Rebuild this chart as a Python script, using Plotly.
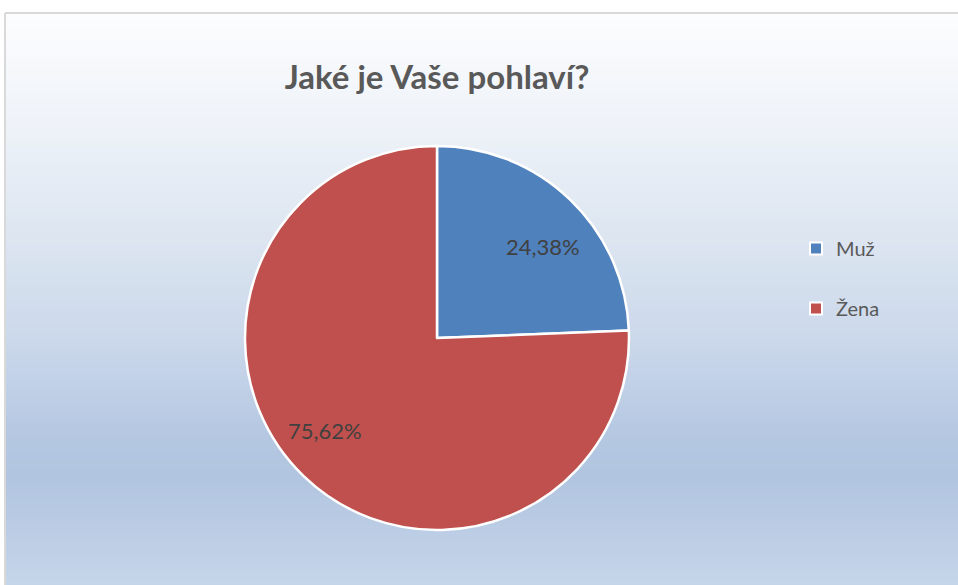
import math
import plotly.graph_objects as go

# ---- data ----
labels = ["Muž", "Žena"]
counts = [49, 152]
colors = ["#4F81BD", "#C0504D"]
title_text = "Jaké je Vaše pohlaví?"

W, H = 958, 585
FONT = "Lato"

# pie placement (pixels)
cx, cy, R = 437, 338, 192

fig = go.Figure()

fig.add_trace(go.Pie(
    labels=labels, values=counts, sort=False, direction="clockwise", rotation=0,
    marker=dict(colors=colors, line=dict(color="white", width=2.5)),
    textinfo="none", hoverinfo="label+percent", showlegend=False,
    domain=dict(x=[(cx - R) / W, (cx + R) / W], y=[(H - cy - R) / H, (H - cy + R) / H]),
))

# legend entries (dummy traces so the spacing between items can be controlled)
for lab, col in zip(labels, colors):
    fig.add_trace(go.Scatter(
        x=[None], y=[None], mode="markers", name=lab, legendgroup=lab,
        marker=dict(symbol="square", size=12, color=col, line=dict(color="white", width=2)),
        hoverinfo="skip",
    ))

# percentage labels, computed from data
total = sum(counts)
label_r = [0.72, 0.76]
angle_shift = -6
start = 90.0
for i, v in enumerate(counts):
    frac = v / total
    span = frac * 360
    mid = start - span / 2 + angle_shift
    start -= span
    a = math.radians(mid)
    px = cx + label_r[i] * R * math.cos(a)
    py = cy - label_r[i] * R * math.sin(a) - 2
    txt = f"{frac * 100:.2f}".replace(".", ",") + "%"
    fig.add_annotation(x=px / W, y=1 - py / H, xref="paper", yref="paper",
                       text=txt, showarrow=False,
                       font=dict(family=FONT, size=22, color="#404040"),
                       xanchor="center", yanchor="middle")

# gradient background inside frame
stops = [(13, (252, 253, 254)), (120, (239, 243, 249)), (240, (220, 229, 240)),
         (340, (203, 216, 235)), (440, (180, 199, 225)), (480, (178, 197, 224)),
         (585, (197, 213, 233))]

def col_at(y):
    for (y0, c0), (y1, c1) in zip(stops[:-1], stops[1:]):
        if y0 <= y <= y1:
            t = (y - y0) / (y1 - y0)
            return "rgb(%d,%d,%d)" % tuple(round(c0[k] + t * (c1[k] - c0[k])) for k in range(3))
    return "rgb(%d,%d,%d)" % stops[-1][1]

shapes = []
y = 13
step = 3
while y < H:
    y2 = min(y + step, H)
    shapes.append(dict(type="rect", xref="paper", yref="paper", layer="below",
                       x0=5 / W, x1=1, y0=1 - y2 / H, y1=1 - y / H,
                       fillcolor=col_at(y + step / 2), line=dict(width=0)))
    y = y2
# frame
shapes.append(dict(type="line", xref="paper", yref="paper", layer="below",
                   x0=5 / W, x1=1, y0=1 - 13 / H, y1=1 - 13 / H,
                   line=dict(color="#D9D9D9", width=2)))
shapes.append(dict(type="line", xref="paper", yref="paper", layer="below",
                   x0=5 / W, x1=5 / W, y0=0, y1=1 - 13 / H,
                   line=dict(color="#D9D9D9", width=2)))

fig.update_layout(
    width=W, height=H, margin=dict(l=0, r=0, t=0, b=0),
    paper_bgcolor="white", plot_bgcolor="rgba(0,0,0,0)",
    shapes=shapes,
    title=dict(text=f"<b>{title_text}</b>", x=cx / W, xanchor="center",
               y=1 - 77 / H, yanchor="middle",
               font=dict(family=FONT, size=33, color="#595959")),
    xaxis=dict(visible=False), yaxis=dict(visible=False),
    legend=dict(x=796 / W, y=1 - 229 / H, xanchor="left", yanchor="top",
                bgcolor="rgba(0,0,0,0)", tracegroupgap=31,
                font=dict(family=FONT, size=20, color="#595959"),
                traceorder="grouped"),
    showlegend=True,
)

fig.write_html("out.html")
